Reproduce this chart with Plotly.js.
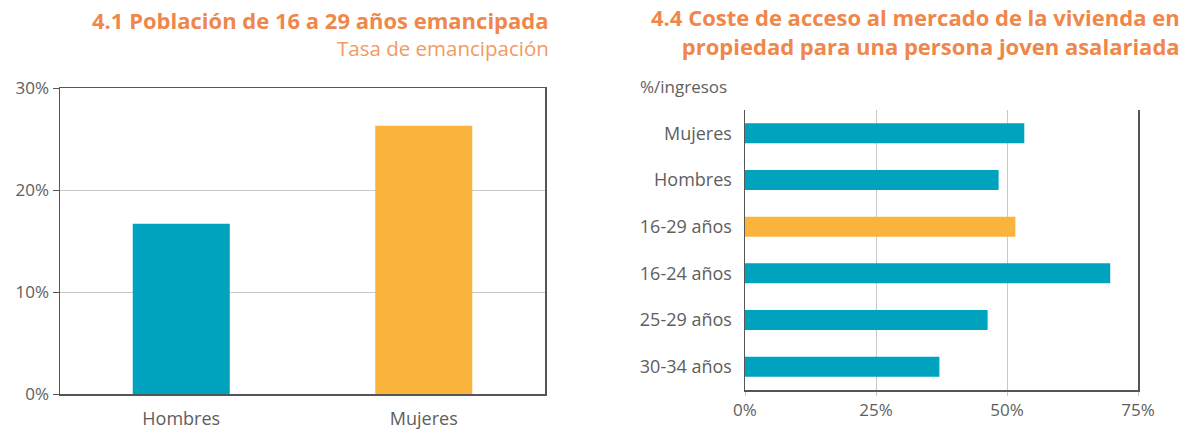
<!DOCTYPE html>
<html><head><meta charset="utf-8">
<script src="https://cdn.plot.ly/plotly-3.0.1.min.js"></script>
<style>html,body{margin:0;padding:0;background:#fff}#chart{width:1186px;height:432px}</style>
</head><body><div id="chart"></div>
<script>
// Chart 4.1 – tasa de emancipación
const sexCategories = ["Hombres", "Mujeres"];
const sexValues = [16.7, 26.3];
const sexColors = ["#00A3BE", "#FBB43B"];
const leftTicks = [0, 10, 20, 30];
const leftTickLabels = ["0%", "10%", "20%", "30%"];

// Chart 4.4 – coste de acceso (% ingresos)
const groupCategories = ["Mujeres", "Hombres", "16-29 años", "16-24 años", "25-29 años", "30-34 años"];
const groupValues = [53.3, 48.4, 51.6, 69.7, 46.3, 37.1];
const groupColors = ["#00A3BE", "#00A3BE", "#FBB43B", "#00A3BE", "#00A3BE", "#00A3BE"];
const rightTicks = [0, 25, 50, 75];
const rightTickLabels = ["0%", "25%", "50%", "75%"];

const W = 1186, H = 432;
const px = x => x / W, py = y => 1 - y / H;
const FONT = "'Open Sans', Roboto, 'DejaVu Sans', sans-serif";
const TXT = "#5e5e5e", LINE = "#555555", GRID = "#c8c8c8", TITLE = "#F0874A", SUB = "#F29A64";

const traces = [
  {type: "bar", x: sexCategories, y: sexValues, marker: {color: sexColors}, width: 0.4,
   xaxis: "x", yaxis: "y", hoverinfo: "x+y"},
  {type: "bar", orientation: "h", y: groupCategories, x: groupValues, marker: {color: groupColors}, width: 0.43,
   xaxis: "x2", yaxis: "y2", hoverinfo: "x+y"}
];

const layout = {
  width: W, height: H,
  margin: {l: 0, r: 0, t: 0, b: 0},
  paper_bgcolor: "#fff", plot_bgcolor: "#fff",
  showlegend: false,
  font: {family: FONT, size: 18, color: TXT},
  xaxis: {domain: [px(60), px(545)], anchor: "y", type: "category", range: [-0.5, 1.5],
          showline: true, mirror: true, linecolor: LINE, linewidth: 1.5, showgrid: false,
          ticks: "", ticklabelstandoff: 8, tickfont: {size: 18, color: TXT}, fixedrange: true},
  yaxis: {domain: [py(394), py(88)], anchor: "x", range: [0, 30], tickvals: leftTicks, ticktext: leftTickLabels,
          showline: true, mirror: true, linecolor: LINE, linewidth: 1.5, showgrid: true, gridcolor: GRID, gridwidth: 1,
          ticks: "outside", ticklen: 6, tickcolor: LINE, zeroline: false, tickfont: {size: 17, color: TXT}, fixedrange: true},
  xaxis2: {domain: [px(745), px(1138)], anchor: "y2", range: [0, 75], tickvals: rightTicks, ticktext: rightTickLabels,
           showline: true, linecolor: LINE, linewidth: 1.5, showgrid: true, gridcolor: GRID, gridwidth: 1,
           ticks: "outside", ticklen: 4, tickcolor: GRID, zeroline: false, tickfont: {size: 17, color: TXT}, fixedrange: true},
  yaxis2: {domain: [py(390), py(110)], anchor: "x2", type: "category", autorange: "reversed",
           showline: true, mirror: true, linecolor: LINE, linewidth: 1.5, showgrid: false,
           ticks: "", ticklabelstandoff: 8, tickfont: {size: 18, color: TXT}, fixedrange: true},
  annotations: [
    {text: "<b>4.1 Población de 16 a 29 años emancipada</b>", xref: "paper", yref: "paper",
     x: px(551), y: py(20), xanchor: "right", yanchor: "middle", showarrow: false,
     font: {family: FONT, size: 22, color: TITLE}},
    {text: "Tasa de emancipación", xref: "paper", yref: "paper",
     x: px(551), y: py(48), xanchor: "right", yanchor: "middle", showarrow: false,
     font: {family: FONT, size: 20.5, color: SUB}},
    {text: "<b>4.4 Coste de acceso al mercado de la vivienda en<br>propiedad para una persona joven asalariada</b>",
     xref: "paper", yref: "paper", align: "right",
     x: px(1182), y: py(31), xanchor: "right", yanchor: "middle", showarrow: false,
     font: {family: FONT, size: 22, color: TITLE}},
    {text: "%/ingresos", xref: "paper", yref: "paper",
     x: px(638), y: py(87), xanchor: "left", yanchor: "middle", showarrow: false,
     font: {family: FONT, size: 17, color: TXT}}
  ]
};

Plotly.newPlot("chart", traces, layout, {staticPlot: true, displayModeBar: false});
</script></body></html>
